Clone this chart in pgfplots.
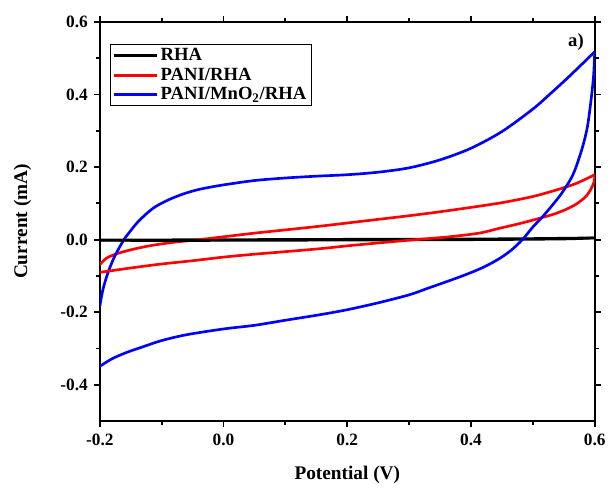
\documentclass[border=0pt]{standalone}
\usepackage{fontspec}
\setmainfont{Liberation Serif}
\usepackage{pgfplots}
\pgfplotsset{compat=1.18}
\begin{document}
\begin{tikzpicture}
\begin{axis}[
  name=ax,
  scale only axis,
  width=372pt, height=300pt,
  xmin=-0.2, xmax=0.6, ymin=-0.5, ymax=0.6,
  xtick={-0.2,0,0.2,0.4,0.6},
  ytick={-0.4,-0.2,0,0.2,0.4,0.6},
  minor x tick num=1, minor y tick num=1,
  xticklabels={-0.2,0.0,0.2,0.4,0.6},
  yticklabels={-0.4,-0.2,0.0,0.2,0.4,0.6},
  tick align=outside,
  major tick length=4.5pt, minor tick length=3pt,
  every tick/.style={black, line width=1.4pt},
  axis line style={line width=1.7pt},
  /pgf/number format/assume math mode=true,
  ticklabel style={font=\bfseries\fontsize{13}{15}\selectfont},
  xticklabel style={yshift=-2pt},
  yticklabel style={xshift=-1pt},
  xlabel={\bfseries Potential (V)},
  ylabel={\bfseries Current (mA)},
  label style={font=\bfseries\fontsize{14.5}{16}\selectfont},
  xlabel style={at={(axis description cs:0.5,-0.135)}, anchor=center},
  ylabel style={at={(axis description cs:-0.156,0.5)}, anchor=center},
  legend style={at={(rel axis cs:0.02,0.945)}, anchor=north west, draw=black, line width=0.6pt,
    font=\bfseries\fontsize{14}{16}\selectfont, inner xsep=2pt, inner ysep=1pt,
    row sep=0pt},
  legend cell align=left,
  legend image code/.code={\draw[#1, line width=2.2pt] (0cm,0cm) -- (1.12cm,0cm);},
]
\addplot[black, line width=2pt, smooth] coordinates {
(-0.2,-0.001) (0.0,0.000) (0.2,0.001) (0.4,0.002) (0.5,0.003) (0.6,0.005)
};
\addlegendentry{RHA}
\addplot[red, line width=2pt, smooth] coordinates {
(-0.2,-0.069) (-0.19,-0.052) (-0.175,-0.040) (-0.15,-0.028) (-0.12,-0.017) (-0.08,-0.007)
(-0.04,0.0) (0,0.008) (0.05,0.018) (0.1,0.027) (0.155,0.037) (0.2,0.046) (0.25,0.056)
(0.3,0.066) (0.35,0.077) (0.4,0.089) (0.45,0.102) (0.5,0.119) (0.54,0.138) (0.57,0.155) (0.6,0.179)
};
\addlegendentry{PANI/RHA}
\addplot[blue, line width=2pt, smooth] coordinates {
(-0.2,-0.184) (-0.195,-0.138) (-0.187,-0.092) (-0.176,-0.046) (-0.161,0) (-0.15,0.025)
(-0.14,0.046) (-0.125,0.071) (-0.11,0.091) (-0.09,0.109) (-0.07,0.123) (-0.05,0.134) (-0.03,0.142) (0,0.151)
(0.05,0.163) (0.1,0.170) (0.15,0.175) (0.2,0.179) (0.25,0.186) (0.3,0.198) (0.35,0.220)
(0.4,0.252) (0.45,0.298) (0.5,0.360) (0.53,0.405) (0.56,0.452) (0.6,0.518)
};
\addlegendentry{PANI/MnO\textsubscript{2}/RHA}
\addplot[black, line width=2pt, smooth, forget plot] coordinates {
(0.6,0.005) (0.55,0.002) (0.4,0.000) (0.2,-0.001) (0.0,-0.002) (-0.2,-0.002)
};
\addplot[red, line width=2pt, smooth, forget plot] coordinates {
(0.6,0.179) (0.599,0.16) (0.594,0.14) (0.585,0.118) (0.57,0.098) (0.553,0.083) (0.535,0.071) (0.515,0.061)
(0.48,0.045) (0.445,0.031) (0.413,0.018) (0.365,0.008) (0.31,0) (0.25,-0.009) (0.2,-0.017)
(0.155,-0.025) (0.1,-0.033) (0.05,-0.04) (0,-0.048) (-0.05,-0.058) (-0.1,-0.067) (-0.15,-0.078) (-0.2,-0.09)
};
\addplot[blue, line width=2pt, smooth, forget plot] coordinates {
(0.6,0.518) (0.598,0.45) (0.594,0.385) (0.588,0.31) (0.579,0.248) (0.565,0.18) (0.547,0.129) (0.53,0.092)
(0.515,0.062) (0.5,0.035) (0.483,0) (0.465,-0.029) (0.445,-0.053) (0.42,-0.076) (0.392,-0.096)
(0.36,-0.116) (0.33,-0.134) (0.3,-0.152) (0.25,-0.174) (0.2,-0.193) (0.155,-0.207) (0.1,-0.222)
(0.05,-0.236) (0.0,-0.246) (-0.06,-0.262) (-0.1,-0.278) (-0.13,-0.295) (-0.157,-0.311)
(-0.18,-0.328) (-0.2,-0.349)
};
\node[font=\bfseries\fontsize{14}{16}\selectfont] at (rel axis cs:0.962,0.95) {a)};
\end{axis}
\path (ax.south west) ++(-75pt,-48.75pt) (ax.north east) ++(10.5pt,16.5pt);
\end{tikzpicture}
\end{document}
